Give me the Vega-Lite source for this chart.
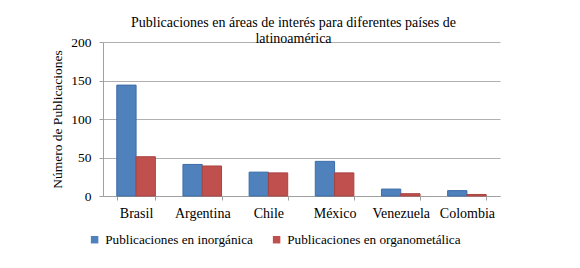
{
  "$schema": "https://vega.github.io/schema/vega-lite/v6.json",
  "autosize": "none",
  "width": 397,
  "height": 154,
  "padding": {"left": 103, "top": 42, "right": 80, "bottom": 72},
  "background": "white",
  "title": {
    "text": ["Publicaciones en áreas de interés para diferentes países de", "latinoamérica"],
    "anchor": "middle",
    "frame": "group",
    "font": "Liberation Serif",
    "fontSize": 14,
    "fontWeight": "normal",
    "color": "#000000",
    "lineHeight": 16,
    "dx": -8,
    "dy": 15
  },
  "data": {
    "values": [
      {"pais": "Brasil", "serie": "Publicaciones en inorgánica", "n": 144},
      {"pais": "Brasil", "serie": "Publicaciones en organometálica", "n": 51},
      {"pais": "Argentina", "serie": "Publicaciones en inorgánica", "n": 41},
      {"pais": "Argentina", "serie": "Publicaciones en organometálica", "n": 39},
      {"pais": "Chile", "serie": "Publicaciones en inorgánica", "n": 31},
      {"pais": "Chile", "serie": "Publicaciones en organometálica", "n": 30},
      {"pais": "México", "serie": "Publicaciones en inorgánica", "n": 45},
      {"pais": "México", "serie": "Publicaciones en organometálica", "n": 30},
      {"pais": "Venezuela", "serie": "Publicaciones en inorgánica", "n": 9},
      {"pais": "Venezuela", "serie": "Publicaciones en organometálica", "n": 3},
      {"pais": "Colombia", "serie": "Publicaciones en inorgánica", "n": 7},
      {"pais": "Colombia", "serie": "Publicaciones en organometálica", "n": 2}
    ]
  },
  "mark": {"type": "bar", "strokeWidth": 1},
  "encoding": {
    "x": {
      "field": "pais",
      "type": "nominal",
      "sort": ["Brasil", "Argentina", "Chile", "México", "Venezuela", "Colombia"],
      "scale": {"paddingInner": 0.417, "paddingOuter": 0.2085},
      "axis": {
        "title": null,
        "labelAngle": 0,
        "tickBand": "extent",
        "tickSize": 4,
        "tickColor": "#A0A0A0",
        "domainColor": "#A0A0A0",
        "labelFont": "Liberation Serif",
        "labelFontSize": 14,
        "labelColor": "#000000",
        "labelPadding": 6,
        "grid": false
      }
    },
    "xOffset": {
      "field": "serie",
      "type": "nominal",
      "sort": ["Publicaciones en inorgánica", "Publicaciones en organometálica"],
      "scale": {"paddingInner": 0, "paddingOuter": 0}
    },
    "y": {
      "field": "n",
      "type": "quantitative",
      "scale": {"domain": [0, 200], "nice": false},
      "axis": {
        "title": "Número de Publicaciones",
        "values": [0, 50, 100, 150, 200],
        "tickSize": 4,
        "tickColor": "#A0A0A0",
        "domainColor": "#A0A0A0",
        "grid": true,
        "gridColor": "#B0B0B0",
        "labelFont": "Liberation Serif",
        "labelFontSize": 13.5,
        "labelColor": "#000000",
        "labelPadding": 8,
        "titleFont": "Liberation Serif",
        "titleFontSize": 13.5,
        "titleFontWeight": "normal",
        "titleColor": "#000000",
        "titlePadding": 6
      }
    },
    "color": {
      "field": "serie",
      "type": "nominal",
      "sort": ["Publicaciones en inorgánica", "Publicaciones en organometálica"],
      "scale": {"range": ["#4F81BD", "#C0504D"]},
      "legend": {
        "title": null,
        "orient": "none",
        "direction": "horizontal",
        "legendX": -15,
        "legendY": 191,
        "symbolType": "square",
        "symbolSize": 56,
        "symbolStrokeWidth": 0,
        "labelFont": "Liberation Serif",
        "labelFontSize": 13.2,
        "labelColor": "#000000",
        "labelOffset": 4,
        "labelLimit": 300,
        "columnPadding": 17,
        "padding": 0
      }
    },
    "stroke": {
      "field": "serie",
      "type": "nominal",
      "sort": ["Publicaciones en inorgánica", "Publicaciones en organometálica"],
      "scale": {"range": ["#3C6CA8", "#A94442"]},
      "legend": null
    }
  },
  "config": {
    "view": {"stroke": null},
    "legend": {"labelFont": "Liberation Serif"},
    "title": {"font": "Liberation Serif"}
  }
}
